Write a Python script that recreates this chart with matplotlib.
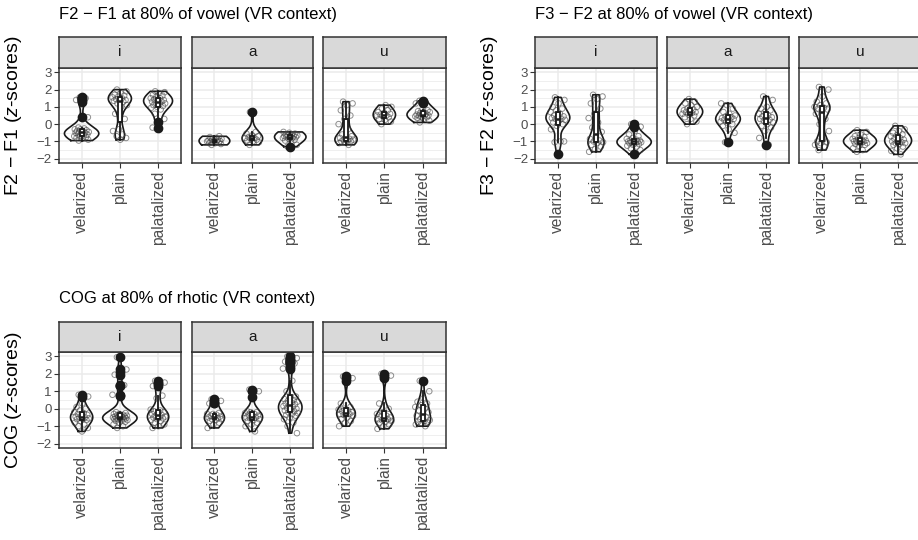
import numpy as np
import matplotlib.pyplot as plt

plt.rcParams['font.family'] = ['Liberation Sans', 'DejaVu Sans']
plt.rcParams['mathtext.fontset'] = 'custom'
plt.rcParams['mathtext.rm'] = 'Liberation Sans'
plt.rcParams['mathtext.it'] = 'Liberation Sans:italic'

W, H = 918, 540

categories = ['velarized', 'plain', 'palatalized']
vowels = ['i', 'a', 'u']

# F2 - F1, one list per category (velarized, plain, palatalized)
f2f1_i = [
    [-0.95, -0.9, -0.85, -0.8, -0.75, -0.7, -0.7, -0.65, -0.6, -0.6, -0.55, -0.5, -0.5,
     -0.45, -0.45, -0.4, -0.4, -0.35, -0.3, -0.3, -0.25, -0.2, 0.4, 1.3, 1.4, 1.5, 1.55],
    [2.0, 1.9, 1.8, 1.7, 1.65, 1.6, 1.55, 1.5, 1.45, 1.4, 1.4, 1.35, 1.3,
     1.2, 1.1, 1.0, 0.6, 0.3, -0.3, -0.4, -0.6, -0.7, -0.8, -0.9],
    [1.9, 1.85, 1.8, 1.7, 1.65, 1.6, 1.5, 1.5, 1.45, 1.4, 1.35, 1.3, 1.3, 1.25, 1.2,
     1.15, 1.1, 1.05, 1.0, 0.95, 0.85, 0.6, 0.3, 0.1, -0.2],
]
f2f1_a = [
    [-1.2, -1.15, -1.1, -1.1, -1.05, -1.05, -1.0, -1.0, -1.0, -0.98, -0.95, -0.95, -0.9,
     -0.9, -0.85, -0.8, -0.75, -0.7],
    [-1.2, -1.05, -1.0, -0.95, -0.9, -0.85, -0.8, -0.8, -0.75, -0.7, -0.65, -0.55, -0.45,
     0.7],
    [-1.3, -1.2, -1.0, -0.95, -0.9, -0.85, -0.8, -0.8, -0.75, -0.75, -0.7, -0.7, -0.7,
     -0.65, -0.65, -0.6, -0.6, -0.55, -0.5, -0.45],
]
f2f1_u = [
    [1.3, 1.2, 1.1, 0.8, 0.5, 0.3, 0.0, -0.3, -0.6, -0.7, -0.75, -0.8, -0.85, -0.9, -0.9,
     -0.95, -1.0, -1.0, -1.05, -1.1, -1.2],
    [0.0, 0.15, 0.25, 0.3, 0.4, 0.45, 0.5, 0.5, 0.55, 0.6, 0.65, 0.7, 0.8, 0.9, 1.0, 1.1],
    [0.1, 0.2, 0.3, 0.35, 0.4, 0.45, 0.45, 0.5, 0.5, 0.5, 0.55, 0.55, 0.6, 0.65, 0.7, 0.7,
     0.75, 0.8, 0.8, 1.2, 1.3, 1.35],
]

# F3 - F2
f3f2_i = [
    [1.55, 1.4, 1.2, 1.0, 0.9, 0.8, 0.7, 0.6, 0.5, 0.45, 0.4, 0.35, 0.3, 0.3, 0.25, 0.2,
     0.1, 0.0, -0.1, -0.3, -1.0, -1.05, -1.0, -1.75],
    [1.7, 1.6, 1.45, 1.2, 0.9, 0.6, 0.35, 0.1, -0.2, -0.45, -0.7, -0.85, -0.95, -1.0,
     -1.05, -1.1, -1.2, -1.3, -1.45, -1.6],
    [0.0, -0.15, -0.4, -0.6, -0.7, -0.8, -0.85, -0.9, -0.95, -0.95, -1.0, -1.0, -1.0,
     -1.05, -1.05, -1.1, -1.1, -1.15, -1.2, -1.25, -1.3, -1.4, -1.5, -1.75],
]
f3f2_a = [
    [0.0, 0.15, 0.3, 0.4, 0.5, 0.55, 0.6, 0.65, 0.7, 0.7, 0.75, 0.8, 0.85, 0.9, 1.0, 1.1,
     1.2, 1.3, 1.45],
    [-1.05, -0.5, -0.3, -0.1, 0.0, 0.1, 0.15, 0.2, 0.25, 0.3, 0.3, 0.35, 0.4, 0.45, 0.5,
     0.6, 0.7, 0.9, 1.1, 1.2],
    [1.6, 1.4, 1.0, 0.9, 0.8, 0.7, 0.6, 0.5, 0.45, 0.4, 0.35, 0.3, 0.25, 0.2, 0.1, 0.0,
     -0.1, -0.2, -0.4, -0.8, -1.2],
]
f3f2_u = [
    [2.15, 2.0, 1.6, 1.3, 1.2, 1.1, 1.0, 0.95, 0.9, 0.85, 0.8, 0.6, 0.3, 0.0, -0.4, -0.9,
     -1.0, -1.05, -1.1, -1.2, -1.3, -1.5],
    [-0.35, -0.45, -0.6, -0.7, -0.75, -0.8, -0.85, -0.9, -0.95, -0.95, -1.0, -1.0, -1.0,
     -1.05, -1.1, -1.1, -1.15, -1.2, -1.25, -1.4, -1.5, -1.6],
    [-0.1, -0.3, -0.4, -0.5, -0.6, -0.65, -0.7, -0.8, -0.85, -0.9, -0.95, -1.0, -1.05,
     -1.1, -1.1, -1.15, -1.2, -1.3, -1.4, -1.55, -1.75],
]

# COG
cog_i = [
    [0.8, 0.7, 0.3, 0.1, 0.0, -0.1, -0.2, -0.25, -0.3, -0.35, -0.4, -0.45, -0.5, -0.5,
     -0.55, -0.6, -0.6, -0.65, -0.7, -0.8, -0.9, -1.0, -1.1, -1.3],
    [2.95, 2.25, 2.1, 1.95, 1.35, 1.3, 0.8, 0.75, -0.2, -0.25, -0.3, -0.3, -0.35, -0.35,
     -0.4, -0.4, -0.45, -0.45, -0.45, -0.5, -0.5, -0.55, -0.55, -0.55, -0.6, -0.6, -0.6,
     -0.65, -0.65, -0.7, -0.75, -0.8, -0.9, -1.0, -1.1],
    [1.6, 1.5, 1.4, 1.3, 0.75, 0.6, -0.05, -0.1, -0.15, -0.2, -0.25, -0.3, -0.35, -0.4,
     -0.45, -0.5, -0.5, -0.55, -0.6, -0.65, -0.7, -0.8, -0.9, -1.0, -1.1],
]
cog_a = [
    [0.55, 0.45, 0.35, 0.3, -0.25, -0.3, -0.3, -0.35, -0.4, -0.45, -0.5, -0.5, -0.55,
     -0.6, -0.6, -0.65, -0.7, -0.8, -0.9, -1.1],
    [1.1, 1.0, 0.7, -0.15, -0.2, -0.2, -0.25, -0.3, -0.35, -0.4, -0.45, -0.5, -0.5,
     -0.55, -0.6, -0.65, -0.7, -0.8, -0.9, -1.0, -1.3],
    [3.0, 2.9, 2.8, 2.7, 2.6, 2.4, 2.3, 1.6, 1.0, 0.7, 0.6, 0.55, 0.5, 0.45, 0.4, 0.35,
     0.3, 0.25, 0.2, 0.15, 0.1, 0.05, 0.0, -0.05, -0.1, -0.15, -0.2, -0.25, -0.3, -0.35,
     -0.4, -0.5, -0.6, -0.8, -1.0, -1.4],
]
cog_u = [
    [1.85, 1.75, 1.6, 0.3, 0.1, 0.0, -0.05, -0.1, -0.15, -0.2, -0.25, -0.3, -0.3, -0.35,
     -0.4, -0.5, -0.6, -0.7, -0.8, -1.0],
    [2.0, 1.9, 1.75, 0.3, 0.0, -0.2, -0.3, -0.4, -0.45, -0.5, -0.55, -0.6, -0.6, -0.65,
     -0.7, -0.75, -0.8, -0.9, -1.0, -1.15],
    [1.6, 1.0, 0.6, 0.4, 0.3, 0.2, 0.1, 0.0, -0.1, -0.2, -0.3, -0.4, -0.5, -0.6, -0.65,
     -0.7, -0.75, -0.8, -0.85, -0.9, -1.0],
]

BW = 0.35  # kernel bandwidth (z units)


def rect(l, t, r, b):
    return [l / W, 1 - b / H, (r - l) / W, (b - t) / H]


def kde(vals, grid):
    v = np.asarray(vals, float)
    z = (grid[:, None] - v[None, :]) / BW
    return np.exp(-0.5 * z ** 2).sum(axis=1) / (len(v) * BW * np.sqrt(2 * np.pi))


def violin_block(fig, cols, top, bottom, strip_top, title, ylabel, ylab_x, groups):
    # densities first; widths scaled by n * density over the whole plot (scale = "count")
    curves = []
    for g in groups:
        row = []
        for vals in g:
            y = np.linspace(min(vals), max(vals), 256)
            row.append((y, kde(vals, y) * len(vals)))
        curves.append(row)
    dmax = max(d.max() for row in curves for _, d in row)

    for k, (l, r) in enumerate(cols):
        ax = fig.add_axes(rect(l, top, r, bottom))
        ax.set_xlim(0.4, 3.6)
        ax.set_ylim(-2.25, 3.25)
        ax.set_yticks([-2, -1, 0, 1, 2, 3])
        ax.set_yticks([-1.5, -0.5, 0.5, 1.5, 2.5], minor=True)
        ax.set_xticks([1, 2, 3], categories, rotation=90)
        ax.grid(True, which='major', color='#EBEBEB', lw=1.1, zorder=0)
        ax.grid(True, which='minor', axis='y', color='#EBEBEB', lw=0.55, zorder=0)
        ax.set_axisbelow(True)
        ax.tick_params(axis='both', which='major', length=3.5, width=0.8, color='#333333',
                       labelcolor='#4D4D4D', labelsize=9.5, pad=1.5)
        ax.tick_params(axis='x', labelsize=11.2, pad=2)
        ax.tick_params(which='minor', length=0)
        if k > 0:
            ax.tick_params(axis='y', length=0, labelleft=False)
        for s in ax.spines.values():
            s.set_color('#333333')
            s.set_linewidth(1.1)

        for j, vals in enumerate(groups[k]):
            c = j + 1
            y, d = curves[k][j]
            hw = 0.45 * d / dmax
            ax.plot(np.r_[c - hw, (c + hw)[::-1], c - hw[0]],
                    np.r_[y, y[::-1], y[0]], color='#1A1A1A', lw=1.2, zorder=2)
            n = len(vals)
            jit = ((np.arange(n) * 0.618034 + 0.31) % 1 - 0.5) * 0.4
            ax.scatter(c + jit, vals, s=16, facecolors='none', edgecolors='#444444',
                       alpha=0.6, lw=0.7, zorder=3)

        ax.boxplot(groups[k], positions=[1, 2, 3], widths=0.1, showcaps=False,
                   patch_artist=True, manage_ticks=False, zorder=4,
                   boxprops=dict(facecolor='white', edgecolor='#1A1A1A', lw=1.3),
                   medianprops=dict(color='#1A1A1A', lw=1.8),
                   whiskerprops=dict(color='#1A1A1A', lw=1.3),
                   flierprops=dict(marker='o', markerfacecolor='#1A1A1A',
                                   markeredgecolor='#1A1A1A', markersize=6))

        # facet strip
        sax = fig.add_axes(rect(l, strip_top, r, top))
        sax.set_facecolor('#D9D9D9')
        sax.set_xticks([])
        sax.set_yticks([])
        for s in sax.spines.values():
            s.set_color('#333333')
            s.set_linewidth(1.1)
        sax.text(0.5, 0.5, vowels[k], ha='center', va='center', fontsize=11,
                 color='#1A1A1A', transform=sax.transAxes)

    fig.text(cols[0][0] / W, 1 - (strip_top - 23) / H, title, ha='left', va='center',
             fontsize=12, color='black')
    fig.text(ylab_x / W, 1 - (top + bottom) / 2 / H, ylabel, rotation=90,
             ha='center', va='center', fontsize=14, color='black')


fig = plt.figure(figsize=(W / 100, H / 100), dpi=100)

left_cols = [(58.7, 181), (191.7, 313), (323, 445.7)]
right_cols = [(535, 657), (667, 789), (799, 921)]

violin_block(fig, left_cols, 68, 163, 37, 'F2 − F1 at 80% of vowel (VR context)',
             r'F2 − F1 ($\mathit{z}$-scores)', 14, [f2f1_i, f2f1_a, f2f1_u])
violin_block(fig, right_cols, 68, 163, 37, 'F3 − F2 at 80% of vowel (VR context)',
             r'F3 − F2 ($\mathit{z}$-scores)', 490, [f3f2_i, f3f2_a, f3f2_u])
violin_block(fig, left_cols, 352, 448, 322, 'COG at 80% of rhotic (VR context)',
             r'COG ($\mathit{z}$-scores)', 14, [cog_i, cog_a, cog_u])

fig.savefig('out.png', dpi=100)
